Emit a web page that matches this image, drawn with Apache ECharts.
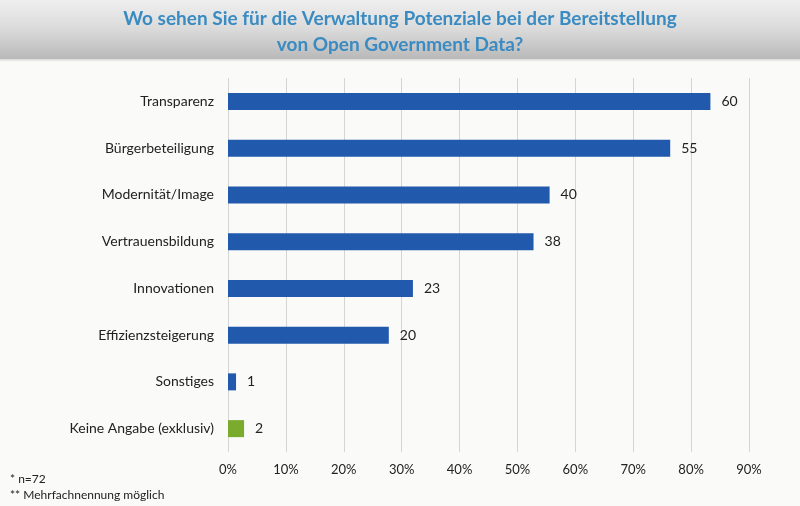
<!DOCTYPE html>
<html>
<head>
<meta charset="utf-8">
<script src="https://cdn.jsdelivr.net/npm/echarts@6/dist/echarts.min.js"></script>
<style>
html,body{margin:0;padding:0;background:#fafaf9;}
#c{width:800px;height:506px;}
</style>
</head>
<body>
<div id="c"></div>
<script>
var categories = ['Transparenz','Bürgerbeteiligung','Modernität/Image','Vertrauensbildung','Innovationen','Effizienzsteigerung','Sonstiges','Keine Angabe (exklusiv)'];
var counts = [60,55,40,38,23,20,1,2];
var respondents = 72;
var barColors = ['#2159ac','#2159ac','#2159ac','#2159ac','#2159ac','#2159ac','#2159ac','#7aab2c'];
var tickLabels = ['0%','10%','20%','30%','40%','50%','60%','70%','80%','90%'];
var titleText = 'Wo sehen Sie für die Verwaltung Potenziale bei der Bereitstellung\nvon Open Government Data?';

var shares = counts.map(function(c){ return c / respondents * 100; });

var chart = echarts.init(document.getElementById('c'));
var font = 'Lato';
chart.setOption({
  backgroundColor: '#fafaf9',
  animation: false,
  graphic: [
    {type:'rect', left:0, top:0, shape:{width:800, height:59},
     style:{fill:{type:'linear',x:0,y:0,x2:0,y2:1,colorStops:[{offset:0,color:'#efefef'},{offset:0.5,color:'#dadada'},{offset:1,color:'#b9b9b9'}]}}, z:-1},
    {type:'rect', left:0, top:59, shape:{width:800, height:3},
     style:{fill:{type:'linear',x:0,y:0,x2:0,y2:1,colorStops:[{offset:0,color:'#d8d8d8'},{offset:1,color:'#fafaf9'}]}}, z:-1},
    {type:'text', x:400, y:6, style:{text:titleText, textAlign:'center', fontFamily:font, fontSize:19, fontWeight:'bold', fill:'#3a8bc2', lineHeight:26}},
    {type:'text', left:10, top:473, style:{text:'* n=72', fontFamily:font, fontSize:12, fill:'#222'}},
    {type:'text', left:10, top:489, style:{text:'** Mehrfachnennung möglich', fontFamily:font, fontSize:12, fill:'#222'}}
  ],
  grid: {left: 228, right: 51, top: 78, bottom: 54},
  xAxis: {
    type: 'value', min: 0, max: 90, interval: 10,
    axisLine: {show: false}, axisTick: {show: false},
    splitLine: {lineStyle: {color: '#d4d4d4', width: 1}},
    axisLabel: {formatter: function(v){ return tickLabels[Math.round(v/10)]; }, fontFamily: font, fontSize: 13, color: '#222', margin: 11}
  },
  yAxis: {
    type: 'category', data: categories, inverse: true,
    axisLine: {show: false}, axisTick: {show: false},
    axisLabel: {fontFamily: font, fontSize: 14, color: '#222', margin: 14}
  },
  series: [{
    type: 'bar',
    data: shares.map(function(v,i){ return {value: v, itemStyle: {color: barColors[i]}}; }),
    barWidth: 17,
    label: {show: true, position: 'right', distance: 11, fontFamily: font, fontSize: 14, color: '#222',
      formatter: function(p){ return counts[p.dataIndex]; }}
  }]
});
</script>
</body>
</html>
